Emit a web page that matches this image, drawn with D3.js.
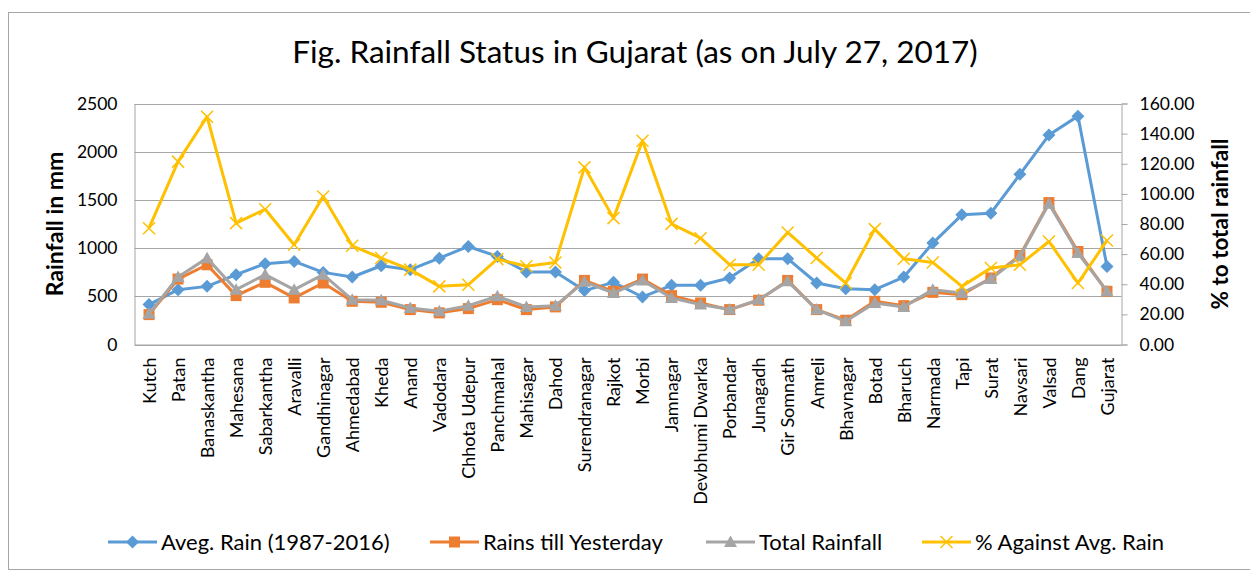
<!DOCTYPE html>
<html lang='en'>

<head>
    <meta charset='utf-8'>
    <title>Rainfall Status in Gujarat</title>
    <style>
        body {
            margin: 0;
            background-color: white;
            font-family: 'Lato', 'Open Sans', sans-serif;
        }
    </style>
    <script src='https://d3js.org/d3.v7.min.js' charset='utf-8'></script>
</head>

<body>
    <script type="text/javascript">
        const WIDTH = 1250;
        const HEIGHT = 571;

        const districts = ['Kutch', 'Patan', 'Banaskantha', 'Mahesana', 'Sabarkantha', 'Aravalli', 'Gandhinagar',
            'Ahmedabad', 'Kheda', 'Anand', 'Vadodara', 'Chhota Udepur', 'Panchmahal', 'Mahisagar', 'Dahod',
            'Surendranagar', 'Rajkot', 'Morbi', 'Jamnagar', 'Devbhumi Dwarka', 'Porbandar', 'Junagadh',
            'Gir Somnath', 'Amreli', 'Bhavnagar', 'Botad', 'Bharuch', 'Narmada', 'Tapi', 'Surat', 'Navsari',
            'Valsad', 'Dang', 'Gujarat'];

        const avgRain = [414, 569, 603, 724, 838, 862, 748, 700, 817, 776, 896, 1017, 914, 752, 752, 559, 645,
            493, 614, 614, 690, 890, 890, 638, 579, 569, 700, 1052, 1345, 1362, 1765, 2172, 2369, 810];

        const rainsTillYesterday = [310, 679, 827, 507, 645, 483, 638, 448, 438, 362, 328, 372, 465, 362, 390,
            665, 552, 679, 507, 431, 362, 459, 665, 362, 252, 448, 403, 541, 517, 690, 924, 1472, 965, 552];

        const totalRainfall = [318, 700, 896, 569, 724, 569, 724, 465, 459, 379, 345, 403, 500, 390, 403, 650,
            534, 665, 483, 414, 362, 465, 655, 362, 241, 431, 390, 569, 534, 679, 914, 1460, 948, 552];

        const pctAgainstAvg = [77.2, 121.4, 151.2, 80.6, 89.8, 66.2, 98.2, 65.5, 57.4, 49.7, 38.6, 39.7, 56.7,
            51.9, 54.5, 117.6, 83.9, 135.3, 80.1, 70.6, 53.0, 53.0, 74.4, 57.4, 40.8, 76.6, 56.9, 54.5, 38.6,
            50.8, 53.0, 68.4, 40.8, 69.1];

        const leftTicks = [0, 500, 1000, 1500, 2000, 2500];
        const rightTicks = [0, 20, 40, 60, 80, 100, 120, 140, 160];

        const PLOT_LEFT = 134.5;
        const PLOT_RIGHT = 1121.5;
        const PLOT_TOP = 103.5;
        const PLOT_BOTTOM = 344.5;
        const GRID = '#a6a6a6';

        var svg = d3.select('body')
            .append('svg')
            .attr('width', WIDTH)
            .attr('height', HEIGHT);

        // chart border
        svg.append('rect')
            .attr('x', 8.5)
            .attr('y', 12.5)
            .attr('width', WIDTH)
            .attr('height', HEIGHT - 14)
            .attr('fill', 'white')
            .attr('stroke', '#a6a6a6')
            .attr('stroke-width', 1);

        svg.append('text')
            .text('Fig. Rainfall Status in Gujarat (as on July 27, 2017)')
            .attr('x', 635)
            .attr('y', 63)
            .attr('text-anchor', 'middle')
            .attr('font-size', '31.5px')
            .attr('fill', '#000');

        var x = d3.scalePoint()
            .domain(districts)
            .range([PLOT_LEFT, PLOT_RIGHT])
            .padding(0.5);

        var yLeft = d3.scaleLinear()
            .domain([0, 2500])
            .range([PLOT_BOTTOM, PLOT_TOP]);

        var yRight = d3.scaleLinear()
            .domain([0, 160])
            .range([PLOT_BOTTOM, PLOT_TOP]);

        // gridlines
        svg.append('g')
            .selectAll('line')
            .data(leftTicks)
            .enter()
            .append('line')
            .attr('x1', PLOT_LEFT)
            .attr('x2', PLOT_RIGHT)
            .attr('y1', function (d) { return Math.round(yLeft(d)) + 0.5; })
            .attr('y2', function (d) { return Math.round(yLeft(d)) + 0.5; })
            .attr('stroke', GRID)
            .attr('stroke-width', 1);

        // left axis
        var leftAxis = svg.append('g')
            .attr('transform', 'translate(' + PLOT_LEFT + ',0)')
            .call(d3.axisLeft(yLeft).tickValues(leftTicks).tickSize(0).tickPadding(17)
                .tickFormat(d3.format('d')));
        leftAxis.select('.domain').attr('stroke', GRID);
        leftAxis.selectAll('text')
            .attr('font-family', 'Lato, sans-serif')
            .attr('font-size', '17.5px')
            .attr('fill', '#000');

        // right axis
        var rightAxis = svg.append('g')
            .attr('transform', 'translate(' + PLOT_RIGHT + ',0)')
            .call(d3.axisRight(yRight).tickValues(rightTicks).tickSize(6).tickPadding(12)
                .tickFormat(d3.format('.2f')));
        rightAxis.select('.domain').attr('stroke', GRID);
        rightAxis.selectAll('line').attr('stroke', GRID);
        rightAxis.selectAll('text')
            .attr('font-family', 'Lato, sans-serif')
            .attr('font-size', '17.5px')
            .attr('fill', '#000');

        // bottom axis
        var bottomAxis = svg.append('g')
            .attr('transform', 'translate(0,' + PLOT_BOTTOM + ')')
            .call(d3.axisBottom(x).tickSize(0).tickPadding(0));
        bottomAxis.select('.domain').attr('stroke', GRID);
        bottomAxis.selectAll('text')
            .attr('font-family', 'Lato, sans-serif')
            .attr('font-size', '18px')
            .attr('fill', '#000')
            .attr('text-anchor', 'end')
            .attr('dy', '0.35em')
            .attr('transform', 'translate(0,13) rotate(-90)');

        // axis titles
        svg.append('text')
            .text('Rainfall in mm')
            .attr('transform', 'translate(63,' + 224 + ') rotate(-90)')
            .attr('text-anchor', 'middle')
            .attr('font-weight', 'bold')
            .attr('font-size', '23px');

        svg.append('text')
            .text('% to total rainfall')
            .attr('transform', 'translate(1228,' + 224 + ') rotate(-90)')
            .attr('text-anchor', 'middle')
            .attr('font-weight', 'bold')
            .attr('font-size', '22.5px');

        var seriesList = [
            { name: 'Aveg. Rain (1987-2016)', values: avgRain, scale: yLeft, color: '#5b9bd5', marker: 'diamond' },
            { name: 'Rains till Yesterday', values: rainsTillYesterday, scale: yLeft, color: '#ed7d31', marker: 'square' },
            { name: 'Total Rainfall', values: totalRainfall, scale: yLeft, color: '#a5a5a5', marker: 'triangle' },
            { name: '% Against Avg. Rain', values: pctAgainstAvg, scale: yRight, color: '#ffc000', marker: 'cross' }
        ];

        function drawMarker(g, type, color) {
            if (type === 'diamond') {
                g.append('path')
                    .attr('d', 'M0,-6.5L6.5,0L0,6.5L-6.5,0Z')
                    .attr('fill', color);
            } else if (type === 'square') {
                g.append('rect')
                    .attr('x', -5.5).attr('y', -5.5)
                    .attr('width', 11).attr('height', 11)
                    .attr('fill', color);
            } else if (type === 'triangle') {
                g.append('path')
                    .attr('d', 'M0,-6.5L6.5,5L-6.5,5Z')
                    .attr('fill', color);
            } else {
                g.append('path')
                    .attr('d', 'M-6,-6L6,6M-6,6L6,-6')
                    .attr('stroke', color)
                    .attr('stroke-width', 1.5)
                    .attr('fill', 'none');
            }
        }

        seriesList.forEach(function (s) {
            var line = d3.line()
                .x(function (d, i) { return x(districts[i]); })
                .y(function (d) { return s.scale(d); });

            svg.append('path')
                .datum(s.values)
                .attr('d', line)
                .attr('fill', 'none')
                .attr('stroke', s.color)
                .attr('stroke-width', 3)
                .attr('stroke-linejoin', 'round');

            svg.append('g')
                .selectAll('g')
                .data(s.values)
                .enter()
                .append('g')
                .attr('transform', function (d, i) {
                    return 'translate(' + x(districts[i]) + ',' + s.scale(d) + ')';
                })
                .each(function () {
                    drawMarker(d3.select(this), s.marker, s.color);
                });
        });

        // legend
        var legendX = [108, 430, 706, 922];
        var legend = svg.append('g')
            .selectAll('g')
            .data(seriesList)
            .enter()
            .append('g')
            .attr('transform', function (d, i) {
                return 'translate(' + legendX[i] + ',542)';
            });

        legend.append('line')
            .attr('x1', 0)
            .attr('x2', 49)
            .attr('stroke', function (d) { return d.color; })
            .attr('stroke-width', 3);

        legend.append('g')
            .attr('transform', 'translate(24.5,0)')
            .each(function (d) {
                drawMarker(d3.select(this), d.marker, d.color);
            });

        legend.append('text')
            .text(function (d) { return d.name; })
            .attr('x', 53)
            .attr('dy', '0.35em')
            .attr('font-size', '22px');
    </script>
</body>

</html>
